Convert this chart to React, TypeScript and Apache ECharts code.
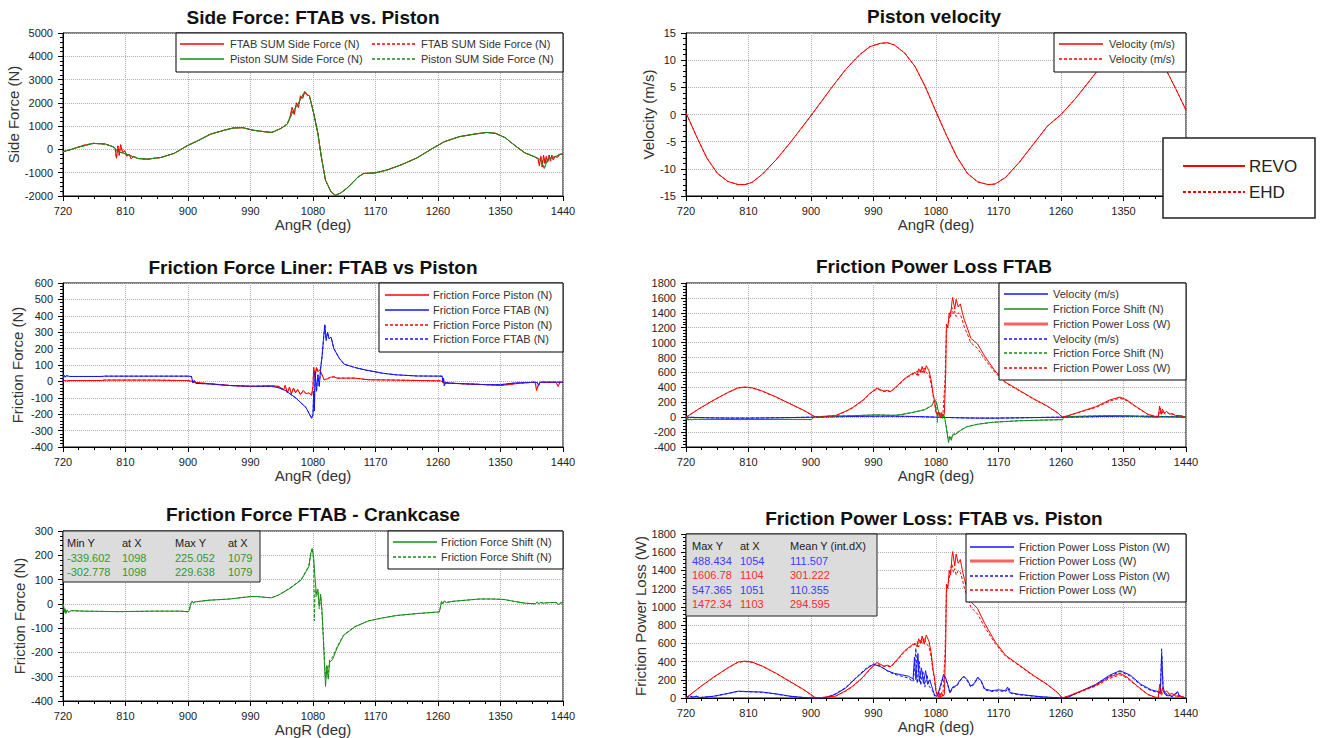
import React, { useEffect, useRef } from "react";
import * as echarts from "echarts";

// ---------------- DATA ----------------
const angleTicks = { min: 720, max: 1440, step: 90 };

// Panel 1: Side force (N)
const sideForceFtab: [number, number][] = [
  [720, -100], [730, -20], [739, 70], [750, 180], [764, 260], [781, 230], [792, 115], [795, 50], [797, -380], [799, 150],
  [801, -250], [803, 200], [806, -150], [809, -50], [812, -300], [815, -200], [818, -400], [822, -300], [828, -390],
  [841, -420], [861, -345], [880, -170], [899, 160], [916, 400], [932, 650], [949, 800], [965, 920], [979, 935],
  [993, 830], [1010, 760], [1021, 730], [1034, 905], [1043, 1090], [1047, 1400], [1050, 1800], [1053, 1500],
  [1056, 2000], [1059, 1800], [1062, 2300], [1065, 2200], [1068, 2450], [1071, 2350], [1075, 2300], [1081, 1550],
  [1087, 690], [1092, -320], [1098, -1320], [1106, -1825], [1112, -1970], [1120, -1870], [1131, -1610],
  [1145, -1180], [1153, -1035], [1170, -1005], [1186, -890], [1208, -650], [1230, -360], [1252, 40], [1269, 330],
  [1291, 550], [1313, 660], [1330, 730], [1343, 690], [1357, 500], [1371, 160], [1385, -145], [1399, -315],
  [1404, -400], [1406, -700], [1408, -300], [1410, -750], [1412, -250], [1414, -600], [1416, -300], [1418, -550],
  [1420, -250], [1422, -500], [1424, -250], [1426, -450], [1429, -300], [1432, -350], [1435, -200], [1440, -200],
];
const sideForcePiston: [number, number][] = [
  [720, -100], [739, 70], [764, 260], [781, 230], [792, 115], [800, -100], [811, -200], [828, -390], [841, -420],
  [861, -345], [880, -170], [899, 160], [916, 400], [932, 650], [949, 800], [965, 920], [979, 935], [993, 830],
  [1010, 760], [1021, 730], [1034, 905], [1043, 1090], [1051, 1620], [1059, 1980], [1068, 2490], [1075, 2270],
  [1081, 1550], [1087, 690], [1092, -320], [1098, -1320], [1106, -1825], [1112, -1970], [1120, -1870],
  [1131, -1610], [1145, -1180], [1153, -1035], [1170, -1005], [1186, -890], [1208, -650], [1230, -360],
  [1252, 40], [1269, 330], [1291, 550], [1313, 660], [1330, 730], [1343, 690], [1357, 500], [1371, 160],
  [1385, -145], [1399, -315], [1408, -450], [1413, -820], [1418, -420], [1429, -300], [1440, -170],
];

// Panel 2: Piston velocity (m/s)
const velocity: [number, number][] = [
  [720, 0.3], [735, -4], [750, -8], [765, -10.8], [780, -12.3], [795, -12.9], [805, -12.9], [815, -12.5],
  [830, -11], [850, -8.3], [870, -5.2], [885, -2.7], [900, -0.2], [915, 2.4], [930, 5], [950, 8.3], [970, 11],
  [985, 12.5], [1000, 13.1], [1010, 13.2], [1020, 12.8], [1035, 11.3], [1050, 8.8], [1065, 5], [1080, 0.5],
  [1095, -3.8], [1110, -7.8], [1125, -10.8], [1140, -12.4], [1155, -12.9], [1165, -12.8], [1180, -11.6],
  [1200, -8.8], [1220, -5.5], [1240, -2.2], [1260, 0], [1280, 2.8], [1300, 6], [1320, 9.3], [1340, 11.8],
  [1360, 13.1], [1372, 13.2], [1385, 12.5], [1400, 10.6], [1413, 7.8], [1425, 4.8], [1440, 0.8],
];

// Panel 3: Friction force liner (N)
const frictionPiston: [number, number][] = [
  [720, 0], [722, 5], [725, 3], [730, 5], [775, 5], [780, 8], [850, 8], [900, 5], [905, 0], [910, -5], [920, -10],
  [960, -25], [990, -30], [1020, -27], [1030, -30], [1038, -50], [1040, -25], [1043, -70], [1046, -35],
  [1049, -75], [1052, -40], [1055, -70], [1058, -50], [1062, -80], [1066, -55], [1070, -75], [1074, -70],
  [1078, -85], [1080, -30], [1081, 85], [1083, 20], [1085, 85], [1087, 60], [1090, 70], [1093, 40], [1096, 10],
  [1100, 15], [1105, 25], [1110, 28], [1115, 20], [1125, 20], [1140, 20], [1160, 10], [1200, 8], [1265, 3],
  [1268, -10], [1300, -15], [1330, -20], [1350, -25], [1380, -10], [1400, -5], [1402, -55], [1405, -15],
  [1408, -5], [1430, -5], [1433, -30], [1436, -5], [1440, -5],
];
const frictionFtab: [number, number][] = [
  [720, 0], [721, 40], [723, 25], [725, 35], [730, 30], [775, 30], [780, 32], [900, 32], [905, 30], [907, -10],
  [909, 5], [911, -12], [930, -15], [960, -25], [990, -30], [1020, -30], [1030, -38], [1040, -55], [1055, -100],
  [1070, -160], [1078, -225], [1080, -200], [1081, -60], [1082, -180], [1083, 60], [1085, -60], [1087, 40],
  [1089, -30], [1091, 80], [1093, 150], [1095, 250], [1097, 345], [1099, 250], [1101, 300], [1103, 260],
  [1106, 270], [1110, 200], [1118, 140], [1125, 105], [1140, 85], [1155, 70], [1180, 50], [1200, 40],
  [1230, 33], [1266, 32], [1267, -5], [1268, 20], [1269, -25], [1271, -5], [1275, -10], [1300, -15],
  [1330, -20], [1350, -20], [1370, -10], [1400, -5], [1403, -8], [1405, -25], [1407, -5], [1420, -5], [1440, -5],
];

// Panel 4/6: Friction power loss (W)
const powerLossRevo: [number, number][] = [
  [720, 0], [740, 120], [760, 230], [780, 330], [795, 395], [805, 405], [815, 395], [830, 350], [850, 270],
  [870, 180], [890, 90], [905, 10], [910, 0], [920, 10], [935, 20], [950, 80], [960, 130], [975, 230], [985, 320],
  [995, 390], [1000, 370], [1005, 350], [1010, 360], [1015, 345], [1025, 430], [1035, 520], [1045, 580],
  [1050, 600], [1053, 560], [1055, 650], [1058, 600], [1060, 680], [1063, 590], [1066, 690], [1070, 620],
  [1073, 500], [1076, 300], [1078, 220], [1080, 80], [1082, 20], [1084, 70], [1086, 0], [1088, 60], [1090, 20],
  [1092, 40], [1094, 600], [1095, 1250], [1097, 1200], [1099, 1400], [1101, 1350], [1103, 1550], [1104, 1607],
  [1107, 1450], [1109, 1580], [1112, 1480], [1115, 1520], [1118, 1400], [1121, 1300], [1125, 1200],
  [1130, 1060], [1135, 1020], [1140, 980], [1150, 820], [1165, 620], [1180, 470], [1200, 360], [1220, 250],
  [1240, 150], [1255, 60], [1262, 0], [1270, 20], [1290, 80], [1310, 140], [1330, 230], [1345, 270],
  [1355, 230], [1370, 130], [1385, 40], [1395, 10], [1400, 5], [1402, 150], [1404, 40], [1406, 110],
  [1409, 50], [1412, 80], [1416, 40], [1420, 50], [1425, 20], [1430, 25], [1440, 0],
];
const powerLossEhd: [number, number][] = [
  [720, 0], [740, 118], [760, 228], [780, 328], [795, 392], [805, 400], [815, 392], [830, 348], [850, 268],
  [870, 178], [890, 88], [905, 8], [910, 0], [920, 8], [935, 18], [950, 75], [960, 125], [975, 225], [985, 315],
  [995, 380], [1000, 360], [1005, 345], [1010, 350], [1015, 340], [1025, 420], [1035, 510], [1045, 570],
  [1050, 590], [1053, 620], [1055, 560], [1058, 640], [1060, 600], [1063, 660], [1066, 600], [1070, 560],
  [1073, 450], [1076, 280], [1078, 180], [1080, 50], [1082, 60], [1084, 10], [1086, 50], [1088, 10], [1090, 40],
  [1093, 500], [1095, 1150], [1097, 1250], [1099, 1300], [1101, 1420], [1103, 1472], [1105, 1380], [1107, 1420],
  [1109, 1350], [1112, 1400], [1115, 1380], [1118, 1300], [1121, 1200], [1125, 1120], [1130, 1000],
  [1135, 960], [1140, 920], [1150, 780], [1165, 600], [1180, 460], [1200, 355], [1220, 245], [1240, 148],
  [1255, 58], [1262, 0], [1270, 18], [1290, 75], [1310, 130], [1330, 215], [1345, 255], [1355, 220],
  [1370, 125], [1385, 38], [1395, 8], [1400, 5], [1403, 120], [1405, 30], [1407, 90], [1410, 40], [1414, 60],
  [1418, 30], [1422, 40], [1428, 15], [1432, 20], [1440, 0],
];
const powerLossPiston: [number, number][] = [
  [720, 0], [725, 25], [730, 10], [735, 20], [740, 5], [760, 20], [780, 50], [795, 75], [810, 70], [830, 65],
  [850, 45], [870, 20], [890, 5], [900, 0], [920, 0], [935, 40], [950, 110], [965, 220], [980, 320], [990, 370],
  [1000, 345], [1010, 300], [1020, 270], [1030, 255], [1040, 240], [1047, 210], [1049, 450], [1051, 200],
  [1054, 488], [1056, 180], [1059, 330], [1062, 160], [1065, 300], [1068, 150], [1071, 200], [1075, 100],
  [1078, 30], [1082, 20], [1085, 100], [1088, 180], [1091, 260], [1094, 220], [1097, 150], [1100, 60],
  [1104, 120], [1110, 140], [1115, 200], [1120, 240], [1125, 200], [1130, 130], [1135, 160], [1140, 230],
  [1145, 190], [1150, 100], [1160, 80], [1170, 90], [1180, 80], [1183, 120], [1186, 60], [1200, 40],
  [1230, 15], [1260, 0], [1270, 10], [1290, 80], [1310, 150], [1330, 250], [1345, 300], [1360, 250],
  [1375, 150], [1390, 90], [1400, 70], [1403, 60], [1405, 470], [1407, 120], [1410, 40], [1420, 20],
  [1428, 70], [1430, 30], [1435, 10], [1440, 0],
];
const powerLossPistonEhd: [number, number][] = [
  [720, 0], [725, 20], [730, 8], [735, 18], [740, 5], [760, 18], [780, 48], [795, 72], [810, 68], [830, 62],
  [850, 43], [870, 18], [890, 5], [900, 0], [920, 0], [935, 45], [950, 115], [965, 225], [980, 330], [990, 375],
  [1000, 350], [1010, 295], [1020, 260], [1030, 240], [1040, 220], [1047, 180], [1049, 300], [1051, 547],
  [1053, 160], [1056, 400], [1058, 140], [1061, 300], [1064, 120], [1067, 260], [1070, 130], [1075, 80],
  [1078, 20], [1082, 30], [1085, 80], [1088, 160], [1091, 240], [1094, 210], [1097, 140], [1100, 50],
  [1104, 110], [1110, 130], [1115, 190], [1120, 230], [1125, 190], [1130, 120], [1135, 150], [1140, 220],
  [1145, 180], [1150, 90], [1160, 70], [1170, 80], [1180, 70], [1185, 110], [1188, 50], [1200, 35],
  [1230, 12], [1260, 0], [1270, 8], [1290, 75], [1310, 140], [1330, 240], [1345, 290], [1360, 240],
  [1375, 140], [1390, 80], [1400, 60], [1403, 50], [1405, 540], [1407, 100], [1410, 30], [1420, 15],
  [1428, 60], [1430, 25], [1435, 8], [1440, 0],
];

// Panel 5: Friction force shift (N)
const frictionShift: [number, number][] = [
  [720, 0], [721, -10], [722, -35], [723, -20], [724, -40], [726, -25], [728, -35], [732, -28], [750, -30],
  [800, -32], [850, -30], [890, -30], [900, -33], [902, -25], [904, 0], [906, 12], [908, 3], [910, 8], [930, 15],
  [960, 20], [990, 30], [1000, 30], [1010, 27], [1020, 25], [1030, 35], [1047, 64], [1063, 98], [1074, 153],
  [1077, 210], [1079, 225], [1081, 190], [1083, 100], [1085, 40], [1087, 60], [1089, -10], [1091, 40],
  [1093, -30], [1095, -150], [1097, -280], [1098, -340], [1100, -260], [1102, -310], [1104, -240],
  [1108, -230], [1115, -180], [1124, -130], [1140, -95], [1160, -70], [1180, -58], [1200, -48], [1230, -40],
  [1262, -33], [1264, -5], [1265, 10], [1267, 0], [1269, 12], [1272, 5], [1280, 10], [1300, 15], [1320, 20],
  [1340, 20], [1355, 18], [1370, 10], [1385, 3], [1400, 0], [1403, 8], [1405, 0], [1408, 6], [1412, 3],
  [1420, 5], [1430, 6], [1434, -3], [1437, 5], [1440, 5],
];
const frictionShiftEhd: [number, number][] = [
  [720, 0], [721, -8], [722, -30], [723, -22], [724, -36], [726, -26], [728, -32], [732, -28], [750, -30],
  [800, -32], [850, -30], [890, -30], [900, -32], [902, -24], [904, 2], [906, 10], [908, 4], [910, 8], [930, 15],
  [960, 20], [990, 30], [1000, 30], [1010, 27], [1020, 25], [1030, 36], [1047, 66], [1063, 100], [1074, 156],
  [1077, 215], [1079, 230], [1081, 170], [1082, -70], [1083, 60], [1085, 30], [1087, 50], [1089, -20],
  [1091, 30], [1093, -40], [1095, -140], [1097, -260], [1098, -303], [1100, -250], [1102, -280], [1104, -230],
  [1108, -220], [1115, -175], [1124, -128], [1140, -94], [1160, -70], [1180, -58], [1200, -48], [1230, -40],
  [1262, -33], [1264, -8], [1265, 8], [1267, 2], [1269, 10], [1272, 6], [1280, 10], [1300, 15], [1320, 20],
  [1340, 20], [1355, 18], [1370, 10], [1385, 3], [1400, 0], [1403, 6], [1405, 1], [1408, 5], [1412, 3],
  [1420, 5], [1430, 5], [1434, -2], [1437, 4], [1440, 5],
];

// Texts
const panelTitles = [
  "Side Force: FTAB vs. Piston",
  "Piston velocity",
  "Friction Force Liner: FTAB vs Piston",
  "Friction Power Loss FTAB",
  "Friction Force FTAB - Crankcase",
  "Friction Power Loss: FTAB vs. Piston",
];
const yAxisNames = ["Side Force (N)", "Velocity (m/s)", "Friction Force (N)", "", "Friction Force (N)", "Friction Power Loss (W)"];
const xAxisName = "AngR (deg)";
const shiftStatsHeader = ["Min Y", "at X", "Max Y", "at X"];
const shiftStatsRows = [
  ["-339.602", "1098", "225.052", "1079"],
  ["-302.778", "1098", "229.638", "1079"],
];
const powerStatsHeader = ["Max Y", "at X", "Mean Y (int.dX)"];
const powerStatsRows = [
  ["488.434", "1054", "111.507"],
  ["1606.78", "1104", "301.222"],
  ["547.365", "1051", "110.355"],
  ["1472.34", "1103", "294.595"],
];

// ---------------- STYLE / LAYOUT ----------------
const FONT = '"Liberation Sans", Arial, Helvetica, sans-serif';
const RED = "#ff0000";
const GREEN = "#1a8c1a";
const BLUE = "#1414ff";
const DASH = [3, 2];

const grids = [
  { left: 63, top: 33, width: 500, height: 163 },
  { left: 686, top: 33, width: 500, height: 163 },
  { left: 63, top: 283, width: 500, height: 164 },
  { left: 686, top: 283, width: 500, height: 164 },
  { left: 63, top: 531, width: 500, height: 171 },
  { left: 686, top: 534, width: 500, height: 164 },
];
const yRanges = [
  { min: -2000, max: 5000, interval: 1000 },
  { min: -15, max: 15, interval: 5 },
  { min: -400, max: 600, interval: 100 },
  { min: -400, max: 1800, interval: 200 },
  { min: -400, max: 300, interval: 100 },
  { min: 0, max: 1800, interval: 200 },
];
const yNameGaps = [38, 28, 38, 0, 36, 37];
const titlePos = [
  { x: 313, y: 18 }, { x: 934, y: 17 }, { x: 313, y: 268 },
  { x: 934, y: 267 }, { x: 313, y: 515 }, { x: 934, y: 519 },
];

function line(idx: number, data: [number, number][], color: string, dashed: boolean, width = 1) {
  return {
    type: "line",
    xAxisIndex: idx,
    yAxisIndex: idx,
    data,
    symbol: "none",
    showSymbol: false,
    silent: true,
    lineStyle: { color, width, type: dashed ? DASH : "solid" },
    itemStyle: { color },
  };
}

type LegendItem = { text: string; color: string; dashed: boolean; width?: number };
function legendBox(x: number, y: number, w: number, h: number, lineX: number, textX: number, rowY: number[], items: LegendItem[], cols?: { lineX: number; textX: number }[]) {
  const els: any[] = [
    { type: "rect", shape: { x, y, width: w, height: h }, style: { fill: "#fff", stroke: "#000", lineWidth: 1 }, z: 20 },
  ];
  items.forEach((it, i) => {
    let lx = lineX, tx = textX, ly = rowY[i];
    if (cols) {
      const c = cols[i % cols.length];
      lx = c.lineX; tx = c.textX; ly = rowY[Math.floor(i / cols.length)];
    }
    els.push({
      type: "line", z: 21,
      shape: { x1: lx, y1: ly, x2: lx + 44, y2: ly },
      style: { stroke: it.color, lineWidth: it.width ?? 1.3, lineDash: it.dashed ? DASH : null },
    });
    els.push({
      type: "text", z: 21, x: tx, y: ly,
      style: { text: it.text, fill: "#333", font: `11px ${FONT}`, align: "left", verticalAlign: "middle" },
    });
  });
  return els;
}

function statsBox(x: number, y: number, w: number, h: number, colX: number[], rowY: number[], header: string[], rows: string[][], rowColors: string[]) {
  const els: any[] = [
    { type: "rect", shape: { x, y, width: w, height: h }, style: { fill: "#dcdcdc", stroke: "#222", lineWidth: 1 }, z: 20 },
  ];
  header.forEach((t, c) => {
    els.push({ type: "text", z: 21, x: colX[c], y: rowY[0], style: { text: t, fill: "#222", font: `11px ${FONT}`, verticalAlign: "middle" } });
  });
  rows.forEach((r, ri) => {
    r.forEach((t, c) => {
      els.push({ type: "text", z: 21, x: colX[c], y: rowY[ri + 1], style: { text: t, fill: rowColors[ri], font: `11px ${FONT}`, verticalAlign: "middle" } });
    });
  });
  return els;
}

function buildOption() {
  const axisCommon = {
    axisLine: { show: true, onZero: false, lineStyle: { color: "#000", width: 1 } },
    axisTick: { show: true, length: 5, lineStyle: { color: "#000" } },
    minorTick: { show: true, length: 3, lineStyle: { color: "#000" } },
    splitLine: { show: true, lineStyle: { type: "dotted", color: "#b0b0b0" } },
    axisLabel: { fontSize: 11, color: "#222", fontFamily: FONT, formatter: (v: number) => String(v) },
    nameTextStyle: { fontSize: 15, color: "#333", fontFamily: FONT },
  };
  const xAxes = grids.map((_, i) => ({
    ...axisCommon,
    gridIndex: i,
    type: "value",
    min: angleTicks.min,
    max: angleTicks.max,
    interval: angleTicks.step,
    minorTick: { ...axisCommon.minorTick, splitNumber: 4 },
    axisLabel: { ...axisCommon.axisLabel, margin: 9 },
    name: xAxisName,
    nameLocation: "middle",
    nameGap: 21,
  }));
  const yAxes = grids.map((_, i) => ({
    ...axisCommon,
    gridIndex: i,
    type: "value",
    ...yRanges[i],
    minorTick: { ...axisCommon.minorTick, splitNumber: 5 },
    axisLabel: { ...axisCommon.axisLabel, margin: 10 },
    name: yAxisNames[i],
    nameLocation: "middle",
    nameGap: yNameGaps[i],
  }));

  const series = [
    // Panel 1
    line(0, sideForceFtab, RED, false),
    line(0, sideForceFtab, RED, true),
    line(0, sideForcePiston, GREEN, false),
    line(0, sideForcePiston, GREEN, true),
    // Panel 2
    line(1, velocity, RED, false),
    line(1, velocity, RED, true),
    // Panel 3
    line(2, frictionPiston, RED, false),
    line(2, frictionFtab, BLUE, false),
    line(2, frictionPiston, RED, true),
    line(2, frictionFtab, BLUE, true),
    // Panel 4
    line(3, velocity, BLUE, false),
    line(3, frictionShift, GREEN, false),
    line(3, powerLossRevo, RED, false),
    line(3, velocity, BLUE, true),
    line(3, frictionShiftEhd, GREEN, true),
    line(3, powerLossEhd, RED, true),
    // Panel 5
    line(4, frictionShift, GREEN, false),
    line(4, frictionShiftEhd, GREEN, true),
    // Panel 6
    line(5, powerLossPiston, BLUE, false),
    line(5, powerLossRevo, RED, false),
    line(5, powerLossPistonEhd, BLUE, true),
    line(5, powerLossEhd, RED, true),
  ];

  const graphics: any[] = [
    // Panel 1 legend (2 columns)
    ...legendBox(176, 33, 387, 39, 0, 0, [44, 59], [
      { text: "FTAB SUM Side Force (N)", color: RED, dashed: false },
      { text: "FTAB SUM Side Force (N)", color: RED, dashed: true },
      { text: "Piston SUM Side Force (N)", color: GREEN, dashed: false },
      { text: "Piston SUM Side Force (N)", color: GREEN, dashed: true },
    ], [{ lineX: 180, textX: 230 }, { lineX: 372, textX: 421 }]),
    // Panel 2 legend
    ...legendBox(1054, 33, 132, 39, 1059, 1109, [44, 59], [
      { text: "Velocity (m/s)", color: RED, dashed: false },
      { text: "Velocity (m/s)", color: RED, dashed: true },
    ]),
    // Panel 3 legend
    ...legendBox(379, 283, 184, 69, 385, 433, [295, 310, 325, 339], [
      { text: "Friction Force Piston (N)", color: RED, dashed: false },
      { text: "Friction Force FTAB (N)", color: BLUE, dashed: false },
      { text: "Friction Force Piston (N)", color: RED, dashed: true },
      { text: "Friction Force FTAB (N)", color: BLUE, dashed: true },
    ]),
    // Panel 4 legend
    ...legendBox(999, 283, 187, 97, 1004, 1053, [294, 309, 324, 339, 353, 368], [
      { text: "Velocity (m/s)", color: BLUE, dashed: false },
      { text: "Friction Force Shift (N)", color: GREEN, dashed: false },
      { text: "Friction Power Loss (W)", color: "#ff6060", dashed: false, width: 3 },
      { text: "Velocity (m/s)", color: BLUE, dashed: true },
      { text: "Friction Force Shift (N)", color: GREEN, dashed: true },
      { text: "Friction Power Loss (W)", color: RED, dashed: true },
    ]),
    // Panel 5 legend + stats
    ...legendBox(388, 531, 175, 38, 393, 441, [542, 557], [
      { text: "Friction Force Shift (N)", color: GREEN, dashed: false },
      { text: "Friction Force Shift (N)", color: GREEN, dashed: true },
    ]),
    ...statsBox(63, 531, 197, 51, [67, 122, 175, 228], [543, 558, 572], shiftStatsHeader, shiftStatsRows, ["#2e9a2e", "#2e9a2e"]),
    // Panel 6 legend + stats
    ...legendBox(966, 534, 220, 68, 970, 1019, [547, 561, 576, 590], [
      { text: "Friction Power Loss Piston (W)", color: BLUE, dashed: false },
      { text: "Friction Power Loss (W)", color: "#ff6060", dashed: false, width: 3 },
      { text: "Friction Power Loss Piston (W)", color: BLUE, dashed: true },
      { text: "Friction Power Loss (W)", color: RED, dashed: true },
    ]),
    ...statsBox(686, 534, 191, 82, [692, 740, 790], [546, 561, 575, 590, 604], powerStatsHeader, powerStatsRows, ["#3c3cff", "#ff2a2a", "#3c3cff", "#ff2a2a"]),
    // REVO / EHD box
    { type: "rect", z: 30, shape: { x: 1163, y: 138, width: 152, height: 80 }, style: { fill: "#fff", stroke: "#222", lineWidth: 1.5 } },
    { type: "line", z: 31, shape: { x1: 1183, y1: 166, x2: 1245, y2: 166 }, style: { stroke: RED, lineWidth: 2 } },
    { type: "line", z: 31, shape: { x1: 1183, y1: 192, x2: 1245, y2: 192 }, style: { stroke: RED, lineWidth: 2, lineDash: DASH } },
    { type: "text", z: 31, x: 1249, y: 166, style: { text: "REVO", fill: "#222", font: `17px ${FONT}`, verticalAlign: "middle" } },
    { type: "text", z: 31, x: 1249, y: 192, style: { text: "EHD", fill: "#222", font: `17px ${FONT}`, verticalAlign: "middle" } },
  ];

  return {
    animation: false,
    backgroundColor: "#fff",
    textStyle: { fontFamily: FONT },
    title: panelTitles.map((t, i) => ({
      text: t,
      left: titlePos[i].x,
      top: titlePos[i].y - 10,
      textAlign: "center",
      padding: 0,
      textStyle: { fontSize: 19, fontWeight: "bold", color: "#111", fontFamily: FONT },
    })),
    grid: grids.map((g) => ({ ...g, show: true, borderColor: "#000", borderWidth: 1, containLabel: false })),
    xAxis: xAxes,
    yAxis: yAxes,
    series,
    graphic: { elements: graphics },
  };
}

export default function App() {
  const ref = useRef<HTMLDivElement>(null);
  useEffect(() => {
    document.body.style.margin = "0";
    if (!ref.current) return;
    const chart = echarts.init(ref.current, null, { renderer: "svg" });
    chart.setOption(buildOption() as any);
    return () => chart.dispose();
  }, []);
  return <div ref={ref} style={{ position: "absolute", left: 0, top: 0, width: 1323, height: 738 }} />;
}
